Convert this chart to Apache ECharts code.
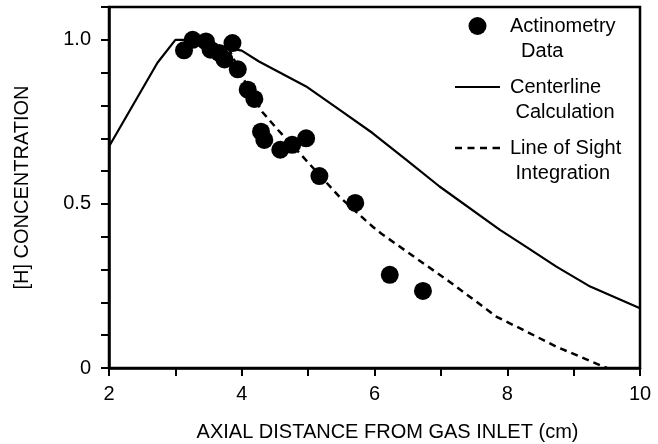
<!DOCTYPE html>
<html>
<head>
<meta charset="utf-8">
<script src="https://cdn.jsdelivr.net/npm/echarts@6/dist/echarts.min.js"></script>
<style>
html,body{margin:0;padding:0;background:#fff;}
#chart{width:658px;height:444px;}
</style>
</head>
<body>
<div id="chart"></div>
<script>
// Actinometry data (scatter)
const actX = [3.13, 3.26, 3.46, 3.53, 3.66, 3.74, 3.86, 3.94, 4.09, 4.19, 4.29, 4.34, 4.58, 4.76, 4.97, 5.17, 5.71, 6.23, 6.73];
const actY = [0.968, 1.0, 0.995, 0.97, 0.96, 0.94, 0.99, 0.91, 0.848, 0.82, 0.72, 0.695, 0.665, 0.68, 0.70, 0.585, 0.503, 0.284, 0.235];
// Centerline calculation (solid)
const centerX = [2, 2.73, 3.0, 3.15, 4.0, 4.26, 4.97, 5.47, 5.97, 6.48, 6.98, 7.89, 8.24, 8.74, 9.25, 10];
const centerY = [0.675, 0.93, 1.0, 1.0, 0.967, 0.934, 0.858, 0.787, 0.716, 0.634, 0.553, 0.421, 0.375, 0.309, 0.248, 0.182];
// Line of sight integration (dashed)
const losX = [3.8, 4.0, 4.31, 4.57, 4.92, 5.47, 5.97, 6.1, 6.63, 7.13, 7.84, 8.24, 8.74, 9.5];
const losY = [0.975, 0.89, 0.78, 0.72, 0.644, 0.522, 0.431, 0.41, 0.334, 0.263, 0.156, 0.116, 0.065, 0.0];
// Labels
const seriesNames = ['Actinometry', 'Centerline', 'Line of Sight'];
const legendLines = {
  'Actinometry': ['Actinometry', '  Data'],
  'Centerline': ['Centerline', ' Calculation'],
  'Line of Sight': ['Line of Sight', ' Integration']
};
const xTitle = 'AXIAL DISTANCE FROM GAS INLET (cm)';
const yTitle = '[H] CONCENTRATION';

const FONT = '"Liberation Sans", Arial, Helvetica, sans-serif';
const zip = (a, b) => a.map((v, i) => [v, b[i]]);

const solidIcon = 'path://M0,0 L45,0 L45,2.2 L0,2.2 Z';
const dashIcon = 'path://M0,0h7v2.4h-7z M12.5,0h7v2.4h-7z M25,0h7v2.4h-7z M37.5,0h7.5v2.4h-7.5z';

const chart = echarts.init(document.getElementById('chart'), null, {renderer: 'canvas'});
chart.setOption({
  animation: false,
  backgroundColor: '#fff',
  textStyle: {fontFamily: FONT, color: '#000'},
  grid: {left: 109, right: 18, top: 7, bottom: 76, containLabel: false, outerBoundsMode: 'none',
    show: true, borderColor: '#000', borderWidth: 2.5, backgroundColor: 'transparent'},
  legend: {
    orient: 'vertical',
    left: 455,
    top: -9,
    padding: 0,
    itemGap: -9,
    itemWidth: 45,
    itemHeight: 18,
    align: 'left',
    selectedMode: false,
    formatter: name => '{p| }\n{a|' + legendLines[name][0] + '}\n{a|' + legendLines[name][1] + '}',
    textStyle: {
      fontFamily: FONT, fontSize: 20, color: '#000',
      rich: {
        p: {fontSize: 20, lineHeight: 25, fontFamily: FONT},
        a: {fontSize: 20, lineHeight: 25, fontFamily: FONT, color: '#000', padding: [0, 0, 0, 5]}
      }
    },
    data: [
      {name: seriesNames[0], icon: 'circle'},
      {name: seriesNames[1], icon: solidIcon},
      {name: seriesNames[2], icon: dashIcon}
    ]
  },
  xAxis: {
    type: 'value', min: 2, max: 10, interval: 1,
    name: xTitle, nameLocation: 'middle', nameGap: 54,
    nameTextStyle: {fontFamily: FONT, fontSize: 20, color: '#000', padding: [0, 0, 0, 26]},
    axisLine: {lineStyle: {color: '#000', width: 2.5}},
    axisTick: {show: true, inside: false, length: 8, lineStyle: {color: '#000', width: 2}},
    axisLabel: {fontFamily: FONT, fontSize: 20, color: '#000', margin: 16,
      formatter: v => (Math.round(v) % 2 === 0 ? String(Math.round(v)) : '')},
    splitLine: {show: false}
  },
  yAxis: {
    type: 'value', min: 0, max: 1.1, interval: 0.1,
    name: yTitle, nameLocation: 'middle', nameGap: 77,
    nameTextStyle: {fontFamily: FONT, fontSize: 20, color: '#000'},
    axisLine: {lineStyle: {color: '#000', width: 2.5}},
    axisTick: {show: true, inside: false, length: 8, lineStyle: {color: '#000', width: 2}},
    axisLabel: {fontFamily: FONT, fontSize: 20, color: '#000', margin: 18,
      formatter: v => {
        if (Math.abs(v) < 1e-6) return '0';
        if (Math.abs(v - 0.5) < 1e-6) return '0.5';
        if (Math.abs(v - 1) < 1e-6) return '1.0';
        return '';
      }},
    splitLine: {show: false}
  },
  series: [
    {
      name: seriesNames[1], type: 'line', data: zip(centerX, centerY),
      showSymbol: false, symbol: 'none', smooth: false,
      lineStyle: {color: '#000', width: 2.2, type: 'solid'},
      itemStyle: {color: '#000'}, z: 2
    },
    {
      name: seriesNames[2], type: 'line', data: zip(losX, losY),
      showSymbol: false, symbol: 'none', smooth: false,
      lineStyle: {color: '#000', width: 2.5, type: [7, 5]},
      itemStyle: {color: '#000'}, z: 2
    },
    {
      name: seriesNames[0], type: 'scatter', data: zip(actX, actY),
      symbol: 'circle', symbolSize: 18,
      itemStyle: {color: '#000', opacity: 1}, z: 3
    }
  ]
});
</script>
</body>
</html>
